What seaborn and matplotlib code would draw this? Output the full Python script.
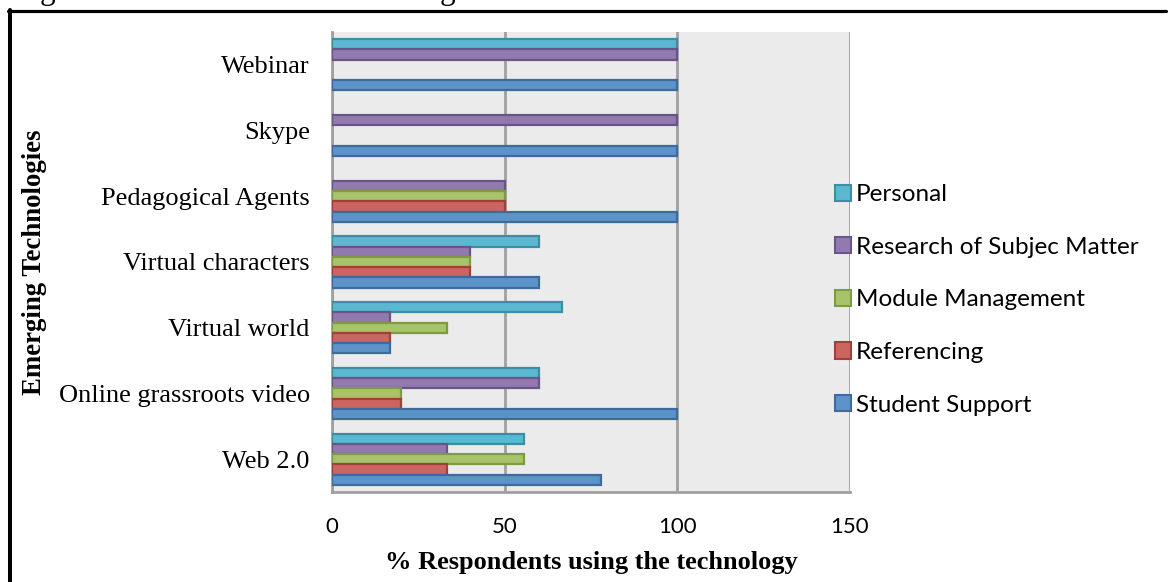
import numpy as np
import pandas as pd
import matplotlib
matplotlib.use("Agg")
import matplotlib.pyplot as plt
from matplotlib.patches import Patch
from matplotlib.lines import Line2D
import seaborn as sns

# -------------------------------
# Data
# -------------------------------
technologies = ["Webinar", "Skype", "Pedagogical Agents", "Virtual characters",
                "Virtual world", "Online grassroots video", "Web 2.0"]

series = ["Personal", "Research of Subjec Matter", "Module Management",
          "Referencing", "Student Support"]

personal = [100, 0, 0, 60, 66.7, 60, 55.6]
research = [100, 100, 50, 40, 16.7, 60, 33.3]
module_mgmt = [0, 0, 50, 40, 33.3, 20, 55.6]
referencing = [0, 0, 50, 40, 16.7, 20, 33.3]
student_support = [100, 100, 100, 60, 16.7, 100, 77.8]

colors = ["#5bb8d1", "#9279b0", "#a8c46a", "#cc6560", "#5c93c8"]
edges = ["#3d8ea5", "#6a5588", "#7d9a45", "#9e403c", "#3d6b9c"]

values = [personal, research, module_mgmt, referencing, student_support]
rows = []
for name, vals in zip(series, values):
    for tech, v in zip(technologies, vals):
        rows.append({"Technology": tech, "Use": name, "Percent": v})
df = pd.DataFrame(rows)

# -------------------------------
# Plot
# -------------------------------
sns.set_style("white")
plt.rcParams["text.color"] = "black"
fig = plt.figure(figsize=(11.68, 5.82), dpi=100)
ax = fig.add_axes([332 / 1168, 1 - 492 / 582, (850 - 332) / 1168, (492 - 32) / 582])
ax.set_facecolor("#ebebeb")

sns.barplot(data=df, x="Percent", y="Technology", hue="Use",
            order=technologies, hue_order=series, palette=colors,
            saturation=1, orient="h", width=0.78, gap=0, ax=ax,
            legend=False, zorder=3)

# darker edges per series, hide zero bars
for container, edge in zip(ax.containers, edges):
    for bar in container:
        bar.set_edgecolor(edge)
        bar.set_linewidth(1.6)
        if bar.get_width() == 0:
            bar.set_visible(False)

ax.set_xlim(0, 150)
ax.set_xticks([0, 50, 100, 150])
ax.set_ylim(6.5, -0.5)
ax.grid(axis="x", color="#a0a0a0", linewidth=2, zorder=1)
ax.set_axisbelow(True)

for side in ["top", "right"]:
    ax.spines[side].set_visible(False)
for side in ["left", "bottom"]:
    ax.spines[side].set_color("#a0a0a0")
    ax.spines[side].set_linewidth(2)

ax.tick_params(axis="x", length=6, width=1.5, color="#a0a0a0", pad=12,
               labelsize=16, labelcolor="black")
ax.tick_params(axis="y", length=0, pad=16, labelsize=19, labelcolor="black")
for lab in ax.get_xticklabels():
    lab.set_fontfamily("Lato")
for lab in ax.get_yticklabels():
    lab.set_fontfamily("Liberation Serif")

ax.set_xlabel("% Respondents using the technology", fontfamily="Liberation Serif",
              fontweight="bold", fontsize=19, labelpad=10, color="black")
ax.set_ylabel("")
fig.text(35 / 1168, 1 - 262 / 582, "Emerging Technologies", rotation=90,
         ha="center", va="center", fontfamily="Liberation Serif",
         fontweight="bold", fontsize=19.3, color="black")

# legend
handles = [Patch(facecolor=c, edgecolor=e, linewidth=1.5) for c, e in zip(colors, edges)]
fig.legend(handles, series, loc="center left",
           bbox_to_anchor=(835 / 1168, 1 - 300 / 582), frameon=False,
           prop={"family": "Lato", "size": 17.5}, handlelength=0.65,
           handleheight=0.65, handletextpad=0.2, labelspacing=1.3,
           borderpad=0, borderaxespad=0, labelcolor="black")

# frame lines and clipped caption at the top
fig.add_artist(Line2D([10 / 1168, 10 / 1168], [0, 1 - 10 / 582], color="black",
                      linewidth=2.9, transform=fig.transFigure))
fig.add_artist(Line2D([8 / 1168, 1166 / 1168], [1 - 10.5 / 582, 1 - 10.5 / 582],
                      color="black", linewidth=2.3, transform=fig.transFigure))
fig.text(14 / 1168, 1 + 1.5 / 582, "Figure 3: Areas of use of technologies",
         ha="left", va="baseline", fontfamily="Liberation Serif", fontsize=22.5,
         color="black")

fig.savefig("out.png", dpi=100)
